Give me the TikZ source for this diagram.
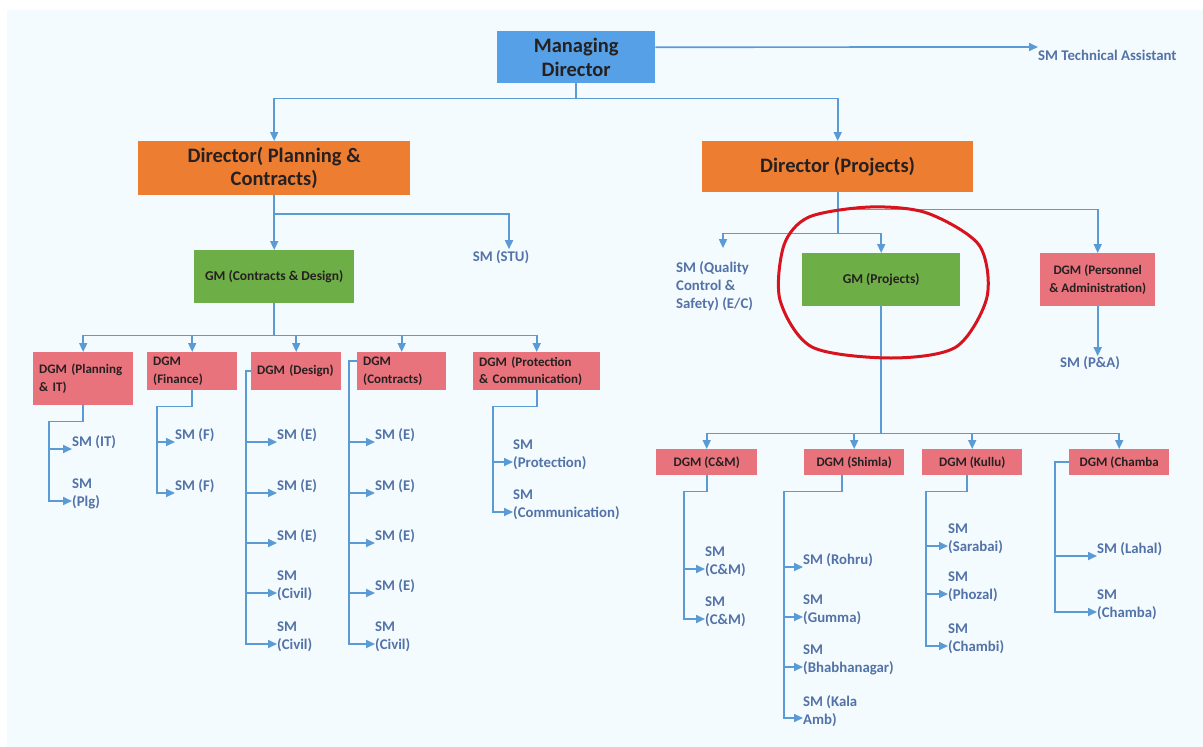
\documentclass[tikz,border=0pt]{standalone}
\usepackage{fontspec}
\setmainfont{Carlito}
\usetikzlibrary{arrows.meta,calc}
\definecolor{bgblue}{HTML}{F4FBFE}
\definecolor{lineblue}{HTML}{5B9BD5}
\definecolor{mdblue}{HTML}{55A0E6}
\definecolor{dirorange}{HTML}{ED7D31}
\definecolor{gmgreen}{HTML}{6DAE47}
\definecolor{dgmred}{HTML}{E8737D}
\definecolor{boxtext}{HTML}{262020}
\definecolor{smtext}{HTML}{5272A8}
\definecolor{ringred}{HTML}{D7141E}
\begin{document}
\begin{tikzpicture}[x=1pt,y=-1pt,>={Stealth[length=9pt,width=8pt,inset=0pt]},
  conn/.style={draw=lineblue,line width=1.7pt},
  box/.style={rectangle,anchor=north west,inner sep=6pt,text=boxtext},
  mdbox/.style={box,fill=mdblue,align=center,font=\bfseries\fontsize{20.5}{24}\selectfont},
  dirbox/.style={box,fill=dirorange,align=center,font=\bfseries\fontsize{20.5}{23}\selectfont},
  gmbox/.style={box,fill=gmgreen,align=center,font=\bfseries\fontsize{13.5}{16}\selectfont},
  dgmbox/.style={box,inner ysep=2pt,fill=dgmred,font=\bfseries\fontsize{13}{17.5}\selectfont},
  smlabel/.style={anchor=west,inner sep=0pt,align=left,text=smtext,font=\bfseries\fontsize{14.8}{18}\selectfont},
  ring/.style={draw=ringred,line width=3pt}]
\useasboundingbox (0,0) rectangle (1203,747);
\fill[white] (0,0) rectangle (1203,747);
\fill[bgblue] (7,10) rectangle (1203,747);

% top levels
\node[mdbox,minimum width=158pt,minimum height=52pt] (md) at (497,31) {Managing\\Director};
\node[smlabel] (smta) at (1038,55) {SM Technical Assistant};
\node[dirbox,minimum width=272pt,minimum height=51pt] (dpc) at (138,141) {Director( Planning \&\\Contracts)};
\node[dirbox,minimum width=271pt,minimum height=51pt] (dp) at (702,141) {Director (Projects)};
\node[gmbox,minimum width=160pt,minimum height=53pt] (gmcd) at (194,250) {GM (Contracts \& Design)};
\node[smlabel,anchor=center] (smstu) at (501,257) {SM (STU)};
\node[smlabel] (smqc) at (676,286) {SM (Quality\\Control \&\\Safety) (E/C)};
\node[gmbox,minimum width=158pt,minimum height=53pt] (gmp) at (802,253) {GM (Projects)};
\node[dgmbox,align=center,minimum width=115pt,minimum height=53pt] (dgmpa) at (1040,253) {DGM (Personnel\\\& Administration)};
\node[smlabel,anchor=center] (smpa) at (1090,363) {SM (P\&A)};

% left DGMs
\node[dgmbox,align=left,text width=88pt,minimum height=53pt] (dgmpit) at (33,352) {DGM (Planning\\\& IT)};
\node[dgmbox,align=left,text width=78pt,minimum height=38pt] (dgmf) at (147,352) {DGM\\(Finance)};
\node[dgmbox,align=left,text width=78pt,minimum height=38pt] (dgmd) at (251,352) {DGM (Design)};
\node[dgmbox,align=left,text width=77pt,minimum height=38pt] (dgmc) at (357,352) {DGM\\(Contracts)};
\node[dgmbox,align=left,text width=115pt,minimum height=38pt] (dgmpc) at (473,352) {DGM (Protection\\\& Communication)};

% right DGMs
\node[dgmbox,align=center,minimum width=101pt,minimum height=26pt] (dgmcm) at (656,449) {DGM (C\&M)};
\node[dgmbox,align=center,minimum width=100pt,minimum height=26pt] (dgmsh) at (804,449) {DGM (Shimla)};
\node[dgmbox,align=center,minimum width=100pt,minimum height=26pt] (dgmku) at (922,449) {DGM (Kullu)};
\node[dgmbox,align=center,minimum width=100pt,minimum height=26pt] (dgmch) at (1069,449) {DGM (Chamba};

% SM labels
\node[smlabel] (smit) at (72,442) {SM (IT)};
\node[smlabel] (smplg) at (72,494) {SM\\(Plg)};
\node[smlabel] (smf1) at (175,435) {SM (F)};
\node[smlabel] (smf2) at (175,486) {SM (F)};
\node[smlabel] (sme1) at (277,435) {SM (E)};
\node[smlabel] (sme2) at (277,486) {SM (E)};
\node[smlabel] (sme3) at (277,536) {SM (E)};
\node[smlabel] (smcv1) at (277,586) {SM\\(Civil)};
\node[smlabel] (smcv2) at (277,637) {SM\\(Civil)};
\node[smlabel] (smc1) at (375,435) {SM (E)};
\node[smlabel] (smc2) at (375,486) {SM (E)};
\node[smlabel] (smc3) at (375,536) {SM (E)};
\node[smlabel] (smc4) at (375,586) {SM (E)};
\node[smlabel] (smcv3) at (375,637) {SM\\(Civil)};
\node[smlabel] (smpr) at (513,455) {SM\\(Protection)};
\node[smlabel] (smcom) at (513,505) {SM\\(Communication)};
\node[smlabel] (smcm1) at (705,562) {SM\\(C\&M)};
\node[smlabel] (smcm2) at (705,612) {SM\\(C\&M)};
\node[smlabel] (smro) at (803,560) {SM (Rohru)};
\node[smlabel] (smgu) at (803,610) {SM\\(Gumma)};
\node[smlabel] (smbh) at (803,660) {SM\\(Bhabhanagar)};
\node[smlabel] (smka) at (803,711) {SM (Kala\\Amb)};
\node[smlabel] (smsa) at (948,539) {SM\\(Sarabai)};
\node[smlabel] (smph) at (948,587) {SM\\(Phozal)};
\node[smlabel] (smchb) at (948,639) {SM\\(Chambi)};
\node[smlabel] (smla) at (1097,549) {SM (Lahal)};
\node[smlabel] (smcb) at (1097,605) {SM\\(Chamba)};

% connectors, upper part
\draw[conn,->] ([yshift=10pt]md.east) -- ($(smta.west)+(0,-8)$);
\draw[conn,->] (md.south) -- ++(0,15) -| (dpc.north);
\draw[conn,->] (md.south) -- ++(0,15) -| (dp.north);
\draw[conn,->] (dpc.south) -- (gmcd.north);
\draw[conn,->] (dpc.south) -- ++(0,19) -| ($(smstu.north)+(8,-1)$);
\foreach \n in {dgmpit,dgmf,dgmd,dgmc,dgmpc}
  \draw[conn,->] (gmcd.south) -- ++(0,32) -| (\n.north);
\draw[conn,->] (dp.south) -- ++(0,17) -| (dgmpa.north);
\draw[conn,->] (dp.south) -- ++(0,41) -| (gmp.north);
\draw[conn,->] (dp.south) -- ++(0,41) -| ($(smqc.north west)+(47,-13)$);
\draw[conn,->] (dgmpa.south) -- (dgmpa.south |- smpa.north);
\foreach \n in {dgmcm,dgmsh,dgmku,dgmch}
  \draw[conn,->] (gmp.south) -- ++(0,127) -| (\n.north);

% connectors, DGM groups
\draw[conn,->] (dgmpit.south) -- ++(0,16) -| ($(smplg.west)+(-23,7)$) -- ($(smplg.west)+(0,7)$);
\draw[conn,->] ($(smit.west)+(-23,7)$) -- ($(smit.west)+(0,7)$);
\draw[conn,->] (dgmf.south) -- ++(0,16) -| ($(smf2.west)+(-18,7)$) -- ($(smf2.west)+(0,7)$);
\draw[conn,->] ($(smf1.west)+(-18,7)$) -- ($(smf1.west)+(0,7)$);
\draw[conn,->] (dgmd.west) -| ($(smcv2.west)+(-31,7)$) -- ($(smcv2.west)+(0,7)$);
\foreach \n in {sme1,sme2,sme3,smcv1}
  \draw[conn,->] ($(\n.west)+(-31,7)$) -- ($(\n.west)+(0,7)$);
\draw[conn,->] ([yshift=10pt]dgmc.west) -| ($(smcv3.west)+(-26,7)$) -- ($(smcv3.west)+(0,7)$);
\foreach \n in {smc1,smc2,smc3,smc4}
  \draw[conn,->] ($(\n.west)+(-26,7)$) -- ($(\n.west)+(0,7)$);
\draw[conn,->] (dgmpc.south) -- ++(0,16) -| ($(smcom.west)+(-20,7)$) -- ($(smcom.west)+(0,7)$);
\draw[conn,->] ($(smpr.west)+(-20,7)$) -- ($(smpr.west)+(0,7)$);
\draw[conn,->] (dgmcm.south) -- ++(0,16) -| ($(smcm2.west)+(-21,7)$) -- ($(smcm2.west)+(0,7)$);
\draw[conn,->] ($(smcm1.west)+(-21,7)$) -- ($(smcm1.west)+(0,7)$);
\draw[conn,->] ($(dgmsh.south)+(-12,0)$) -- ++(0,16) -| ($(smka.west)+(-19,7)$) -- ($(smka.west)+(0,7)$);
\foreach \n in {smro,smgu,smbh}
  \draw[conn,->] ($(\n.west)+(-19,7)$) -- ($(\n.west)+(0,7)$);
\draw[conn,->] ($(dgmku.south)+(-5,0)$) -- ++(0,16) -| ($(smchb.west)+(-22,7)$) -- ($(smchb.west)+(0,7)$);
\foreach \n in {smsa,smph}
  \draw[conn,->] ($(\n.west)+(-22,7)$) -- ($(\n.west)+(0,7)$);
\draw[conn,->] (dgmch.west) -| ($(smcb.west)+(-42,7)$) -- ($(smcb.west)+(0,7)$);
\draw[conn,->] ($(smla.west)+(-42,7)$) -- ($(smla.west)+(0,7)$);

% hand drawn ring
\draw[ring] plot[smooth cycle] coordinates {(784,245) (809,217) (870,207) (927,213) (979,245) (987,297) (956,347) (891,358) (812,347) (780,300)};
\end{tikzpicture}
\end{document}
